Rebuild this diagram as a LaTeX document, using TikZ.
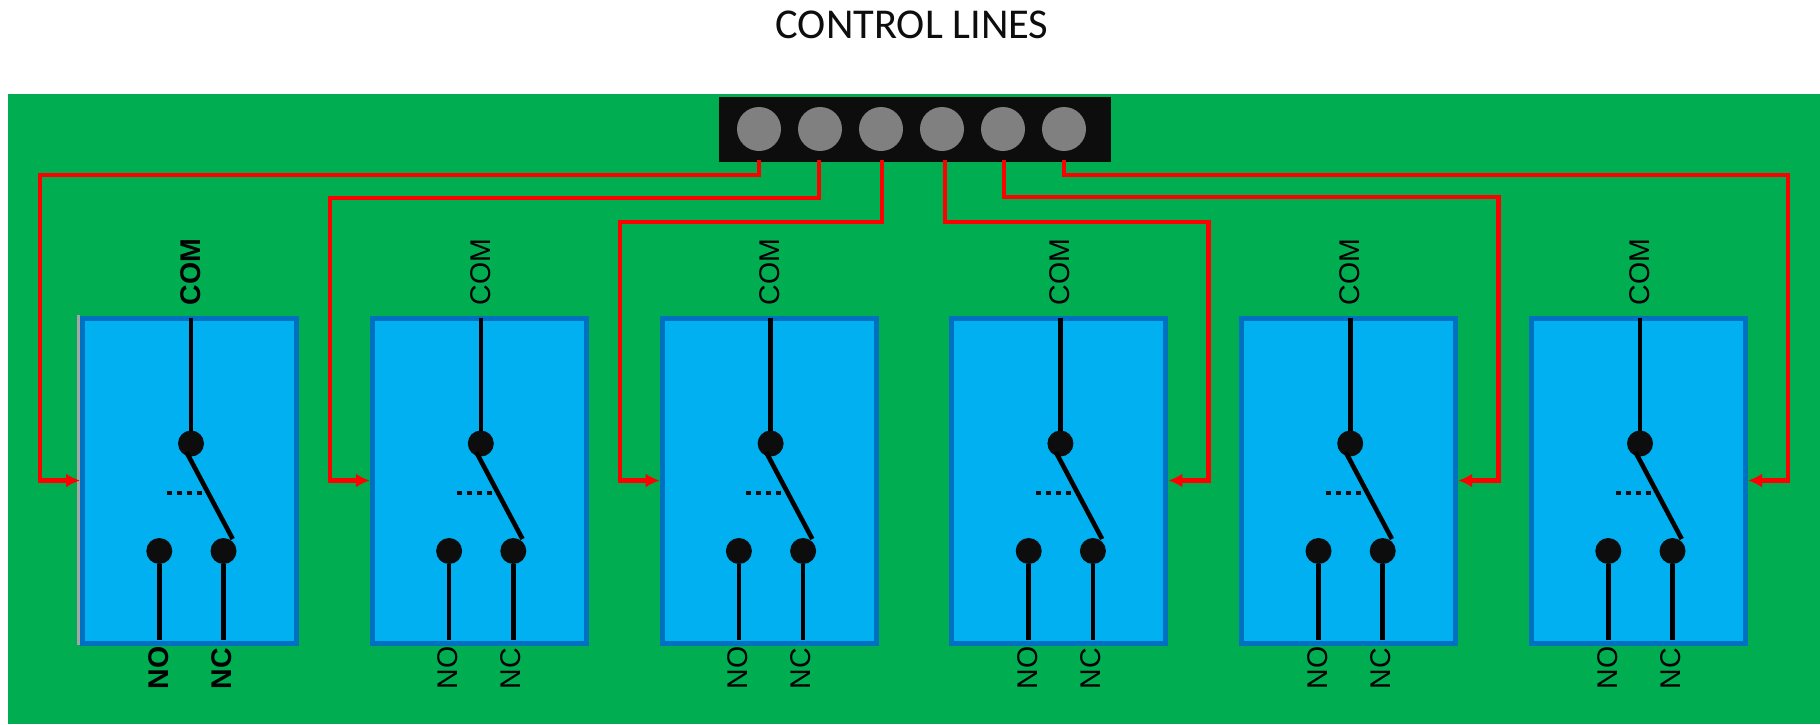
\documentclass[tikz,border=0pt]{standalone}
\usepackage{fontspec}
\setmainfont{Liberation Sans}
\newfontfamily\titlefont{Carlito}
\usetikzlibrary{arrows.meta}
\definecolor{boardgreen}{HTML}{00AD50}
\definecolor{relayblue}{HTML}{00B0F0}
\definecolor{relayedge}{HTML}{0070C0}
\definecolor{nearblack}{HTML}{0D0D0D}
\definecolor{pingray}{HTML}{808080}
\tikzset{
  relaybox/.style={draw=relayedge,fill=relayblue,line width=5pt,minimum width=214pt,minimum height=325pt,inner sep=0pt},
  contact/.style={circle,fill=nearblack,minimum size=26pt,inner sep=0pt,outer sep=0pt},
  pinhole/.style={circle,fill=pingray,minimum size=44pt,inner sep=0pt,outer sep=0pt},
  wire/.style={line width=4.6pt,draw=black},
  ctrl/.style={line width=4.4pt,draw=red,line join=miter,-{Latex[length=14pt,width=14pt]}},
  term/.style={rotate=90,anchor=base west,inner sep=0pt,outer sep=0pt,font=\fontsize{28.5}{28.5}\selectfont},
}
\begin{document}
\begin{tikzpicture}[x=1pt,y=-1pt]
\useasboundingbox (0,0) rectangle (1820,724);
\fill[white] (0,0) rectangle (1820,724);
\fill[boardgreen] (7.5,94) rectangle (1820,724);
\node[font=\titlefont\fontsize{42.5}{42.5}\selectfont,text=nearblack,inner sep=0pt] (title) at (912,25) {CONTROL LINES};
\node[fill=nearblack,minimum width=392pt,minimum height=65pt,inner sep=0pt,outer sep=0pt] (header) at (915,129.5) {};
\foreach \i/\x in {1/759,2/820,3/881,4/942,5/1003,6/1064}
  \node[pinhole] (p\i) at (\x,129) {};
\fill[black!35] (77,315) rectangle (80,645);
\foreach \i/\l in {1/80,2/369.8,3/659.6,4/949.4,5/1239.2,6/1529}{
  \node[relaybox] (b\i) at (\l+109.5,480.5) {};
  \node[contact] (com\i) at (\l+111,443.5) {};
  \node[contact] (no\i) at (\l+79.3,551) {};
  \node[contact] (nc\i) at (\l+143.5,551) {};
  \coordinate (top\i) at (\l+111,317.5);
  \coordinate (nob\i) at (\l+79.3,640);
  \coordinate (ncb\i) at (\l+143.5,640);
  \coordinate (armtop\i) at (\l+106.4,452);
  \coordinate (arm\i) at (\l+152.7,539);
  \coordinate (da\i) at (\l+86.7,493);
  \coordinate (db\i) at (\l+121.7,493);
  \draw[wire] (top\i) -- (com\i);
  \draw[wire] (no\i) -- (nob\i);
  \draw[wire] (nc\i) -- (ncb\i);
  \draw[wire] (armtop\i) -- (arm\i);
  \draw[line width=4.5pt,draw=nearblack,dash pattern=on 5pt off 5pt] (da\i) -- (db\i);
}
\foreach \i/\l/\f in {1/80/\bfseries,2/369.8/,3/659.6/,4/949.4/,5/1239.2/,6/1529/}{
  \node[term] (comt\i) at (\l+120.3,305) {\f COM};
  \node[term] (not\i) at (\l+88,689) {\f NO};
  \node[term] (nct\i) at (\l+151,689) {\f NC};
}
\foreach \i/\x in {1/759,2/819,3/882,4/945,5/1004,6/1064}
  \coordinate (s\i) at (\x,160);
\draw[ctrl] (s1) |- (40,175) |- (b1.west);
\draw[ctrl] (s2) |- (330,198) |- (b2.west);
\draw[ctrl] (s3) |- (620,222) |- (b3.west);
\draw[ctrl] (s4) |- (1208.5,222) |- (b4.east);
\draw[ctrl] (s5) |- (1498.5,197) |- (b5.east);
\draw[ctrl] (s6) |- (1788,175) |- (b6.east);
\end{tikzpicture}
\end{document}
